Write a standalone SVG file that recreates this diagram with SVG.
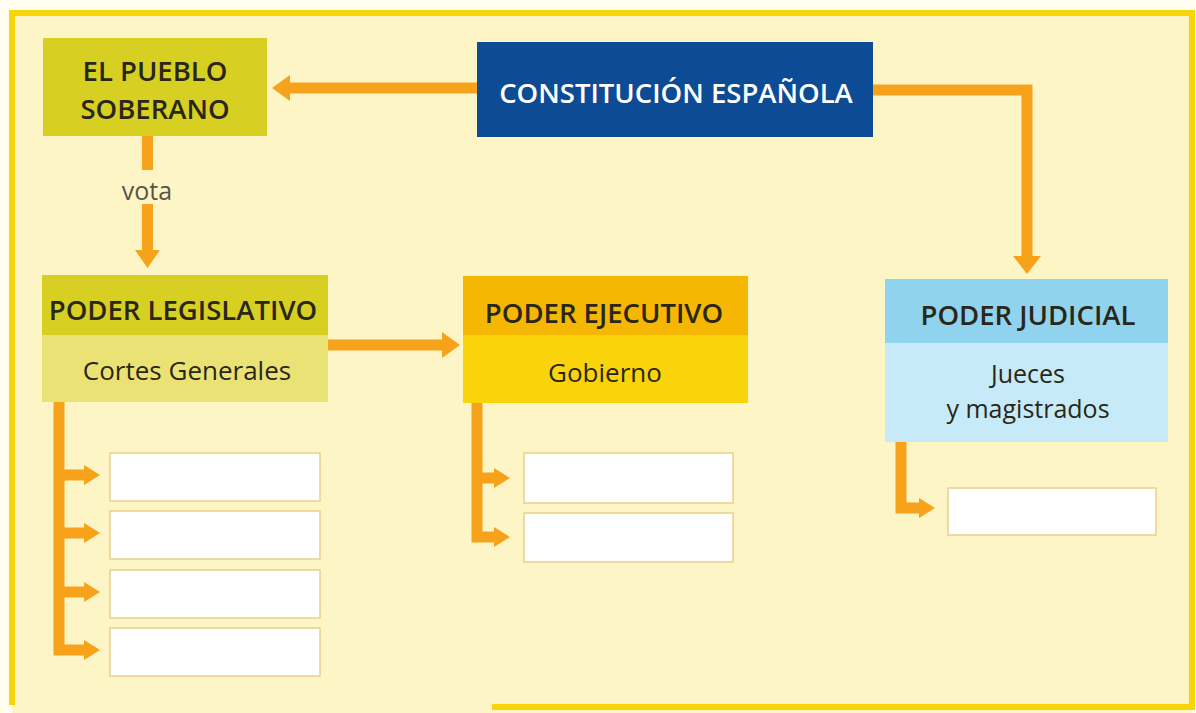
<svg xmlns="http://www.w3.org/2000/svg" width="1196" height="713" viewBox="0 0 1196 713">
<defs>
<style>
.t{font-family:"Open Sans","Liberation Sans",sans-serif;fill:#2a2718;text-anchor:middle;}
.h{font-size:27.5px;font-weight:600;}
.s{font-size:26px;font-weight:500;}
.j{font-size:25px;font-weight:500;}
.w{fill:#ffffff;}
.blank{fill:#ffffff;stroke:#ead08a;stroke-width:1.5;}
.ln{fill:none;stroke:#f7a21b;stroke-width:11;}
.ah{fill:#f7a21b;}
</style>
</defs>
<rect x="0" y="0" width="1196" height="713" fill="#fffdf0"/>
<rect x="12" y="13" width="1180" height="700" fill="#fdf5c6"/>
<g id="frame" fill="none" stroke="#f7d508" stroke-width="6">
<path d="M12 705 V13 H1192 V707 H492"/>
</g>

<g id="pueblo">
<rect x="43" y="38" width="224" height="98" fill="#d7d023"/>
<text class="t h" x="155" y="81">EL PUEBLO</text>
<text class="t h" x="155" y="119">SOBERANO</text>
</g>

<g id="constitucion">
<rect x="477" y="42" width="396" height="95" fill="#0e4b95"/>
<text class="t h w" x="676" y="103">CONSTITUCIÓN ESPAÑOLA</text>
</g>

<g id="legislativo">
<rect x="42" y="275" width="286" height="60" fill="#d7d023"/>
<rect x="42" y="335" width="286" height="67" fill="#ebe276"/>
<text class="t h" x="183" y="320">PODER LEGISLATIVO</text>
<text class="t s" x="187" y="380">Cortes Generales</text>
</g>

<g id="ejecutivo">
<rect x="463" y="276" width="285" height="59" fill="#f6b703"/>
<rect x="463" y="335" width="285" height="68" fill="#f9d40a"/>
<text class="t h" x="604" y="323">PODER EJECUTIVO</text>
<text class="t s" x="605" y="382">Gobierno</text>
</g>

<g id="judicial">
<rect x="885" y="279" width="283" height="64" fill="#8fd3ee"/>
<rect x="885" y="343" width="283" height="99" fill="#c6eaf7"/>
<text class="t h" x="1028" y="325">PODER JUDICIAL</text>
<text class="t j" x="1028" y="383">Jueces</text>
<text class="t j" x="1028" y="418">y magistrados</text>
</g>

<g id="blanks">
<rect class="blank" x="110" y="453" width="210" height="48"/>
<rect class="blank" x="110" y="511" width="210" height="48"/>
<rect class="blank" x="110" y="570" width="210" height="48"/>
<rect class="blank" x="110" y="628" width="210" height="48"/>
<rect class="blank" x="524" y="453" width="209" height="50"/>
<rect class="blank" x="524" y="513" width="209" height="49"/>
<rect class="blank" x="948" y="488" width="208" height="47"/>
</g>

<g id="connectors">
<path class="ln" d="M477 88 H288"/>
<polygon class="ah" points="272,88 290,75 290,101"/>
<path class="ln" d="M873 90 H1027 V258"/>
<polygon class="ah" points="1027,274 1013,256 1041,256"/>
<path class="ln" d="M147.5 136 V170"/>
<path class="ln" d="M147.5 204 V252"/>
<polygon class="ah" points="147.5,268 135,250 160,250"/>
<text x="147" y="200" font-family="'Open Sans','Liberation Sans',sans-serif" font-size="25" fill="#5a5548" text-anchor="middle">vota</text>
<path class="ln" d="M328 345 H444"/>
<polygon class="ah" points="460,345 442,332 442,358"/>
<path class="ln" d="M59 402 V655.5 M59 475 H86 M59 533 H86 M59 592 H86 M53.5 650 H86"/>
<polygon class="ah" points="100,475 84,465 84,485"/>
<polygon class="ah" points="100,533 84,523 84,543"/>
<polygon class="ah" points="100,592 84,582 84,602"/>
<polygon class="ah" points="100,650 84,640 84,660"/>
<path class="ln" d="M477 403 V542.5 M477 478 H496 M471.5 537 H496"/>
<polygon class="ah" points="510,478 494,468 494,488"/>
<polygon class="ah" points="510,537 494,527 494,547"/>
<path class="ln" d="M901 442 V513.5 M895.5 508 H921"/>
<polygon class="ah" points="935,508 919,498 919,518"/>
</g>
</svg>
